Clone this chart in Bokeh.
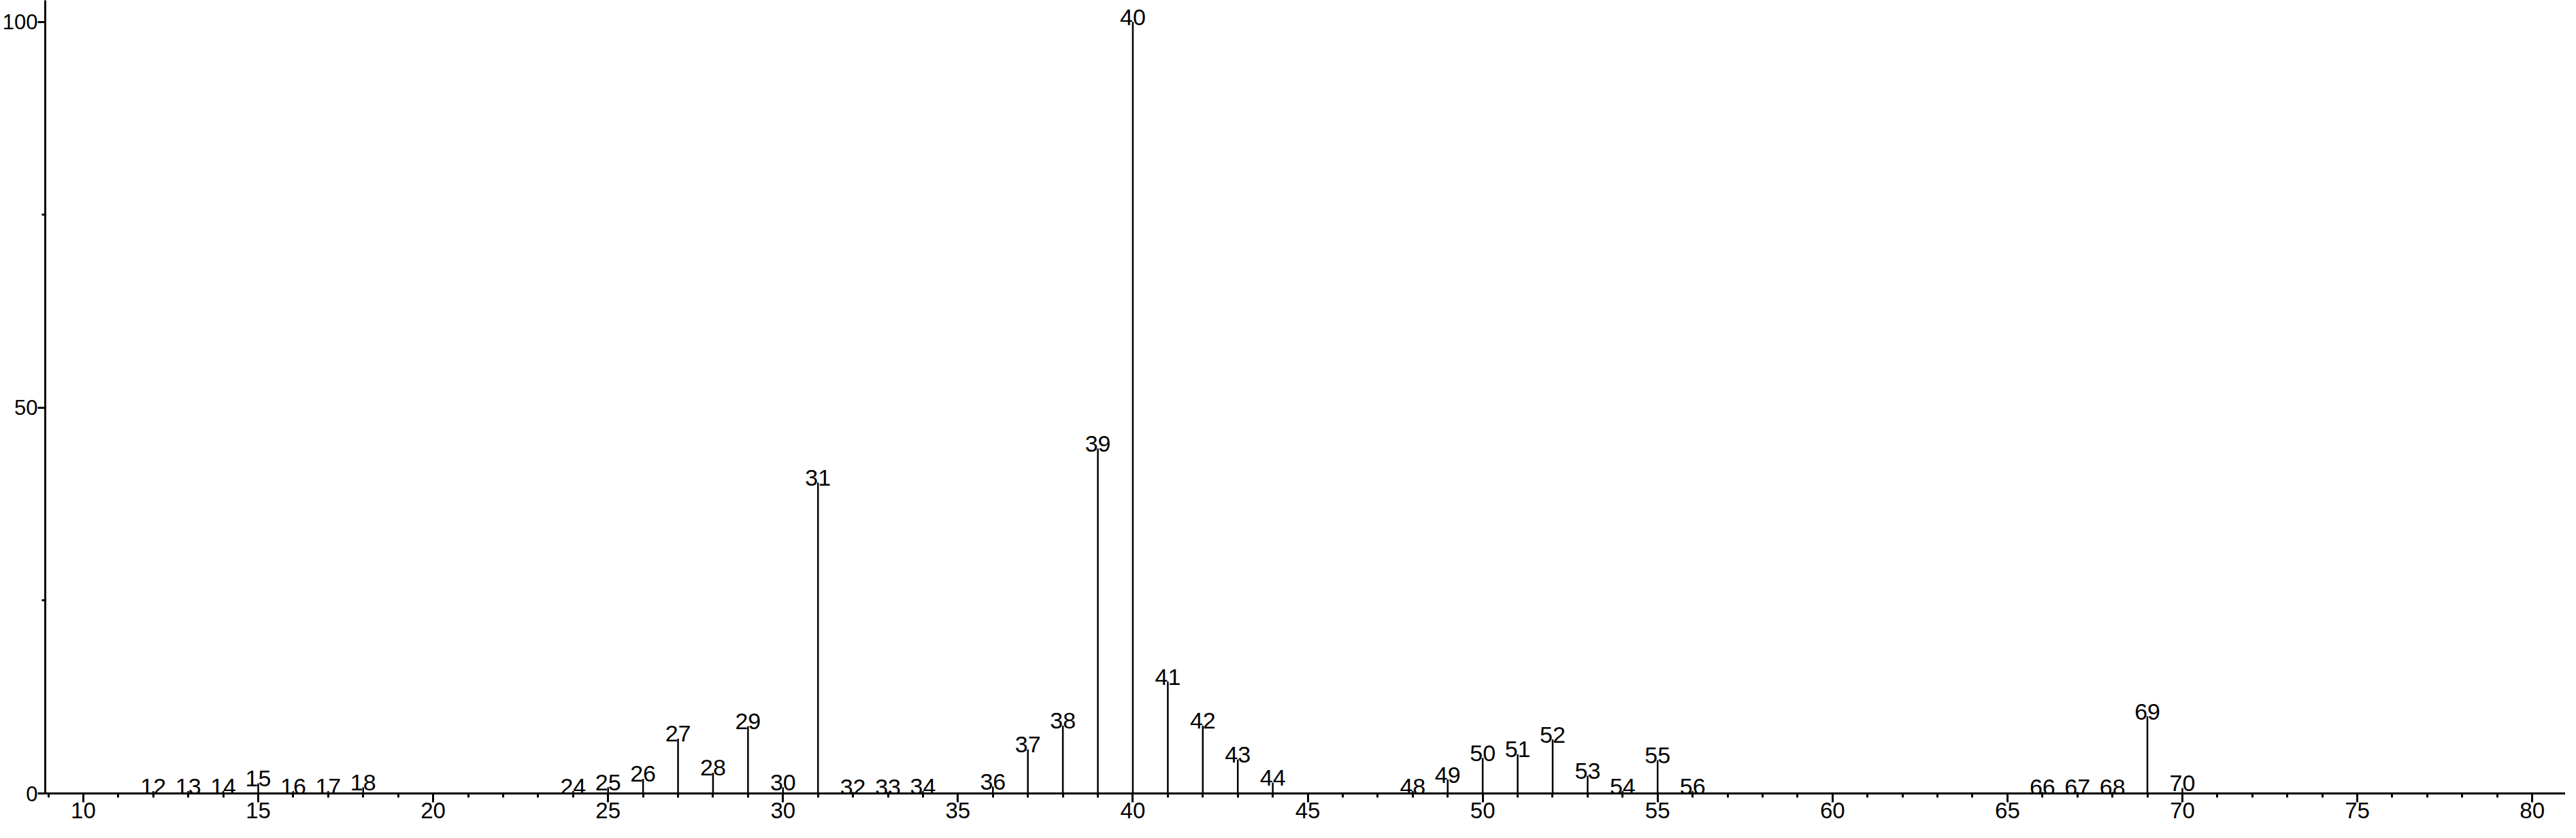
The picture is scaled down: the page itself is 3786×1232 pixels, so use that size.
from bokeh.plotting import figure
from bokeh.models import Range1d, FixedTicker, ColumnDataSource
from bokeh.core.properties import value
from bokeh.embed import file_html
from bokeh.resources import INLINE

# m/z values of the peaks
mz = [12, 13, 14, 15, 16, 17, 18, 24, 25, 26, 27, 28, 29, 30, 31, 32, 33, 34,
      36, 37, 38, 39, 40, 41, 42, 43, 44, 48, 49, 50, 51, 52, 53, 54, 55, 56,
      66, 67, 68, 69, 70]
# relative intensities (%)
intensity = [0.3, 0.3, 0.3, 1.3, 0.3, 0.3, 0.8, 0.3, 0.8, 1.9, 7.1, 2.7, 8.7, 0.8,
             40.3, 0.2, 0.2, 0.3, 0.9, 5.7, 8.8, 44.7, 100.0, 14.5, 8.8, 4.4, 1.4,
             0.3, 1.8, 4.6, 5.1, 7.0, 2.3, 0.3, 4.3, 0.3, 0.2, 0.2, 0.2, 10.0, 0.7]
peak_labels = [str(m) for m in mz]

x_major_ticks = list(range(10, 81, 5))
x_minor_ticks = list(range(9, 81))
y_major_ticks = [0, 50, 100]
y_minor_ticks = [25, 75]

FONT = "Liberation Sans"

src = ColumnDataSource(data=dict(mz=mz, zero=[0] * len(mz), inten=intensity, lab=peak_labels))

p = figure(width=3770, height=1216,
           x_range=Range1d(8.912, 80.95), y_range=Range1d(0, 102.8),
           output_backend="svg", toolbar_location=None,
           min_border_left=62, min_border_right=0, min_border_top=0, min_border_bottom=50)

p.outline_line_color = None
p.grid.visible = False
p.background_fill_color = "white"
p.border_fill_color = "white"

p.segment(x0="mz", y0="zero", x1="mz", y1="inten", source=src,
          line_color="black", line_width=2.5)
p.text(x="mz", y="inten", text="lab", source=src,
       text_align="center", text_baseline="alphabetic", y_offset=-7,
       text_font=value(FONT), text_font_size="34px", text_color="black")

xa = p.xaxis[0]
xa.ticker = FixedTicker(ticks=x_major_ticks, minor_ticks=x_minor_ticks)
xa.axis_line_width = 3
xa.major_tick_line_width = 3
xa.minor_tick_line_width = 3
xa.major_tick_in = 0
xa.major_tick_out = 13
xa.minor_tick_in = 0
xa.minor_tick_out = 6
xa.major_label_standoff = 0
xa.major_label_text_font = FONT
xa.major_label_text_font_size = "33px"
xa.major_label_text_color = "black"

ya = p.yaxis[0]
ya.ticker = FixedTicker(ticks=y_major_ticks, minor_ticks=y_minor_ticks)
ya.axis_line_width = 3
ya.major_tick_line_width = 3
ya.minor_tick_line_width = 3
ya.major_tick_in = 0
ya.major_tick_out = 11
ya.minor_tick_in = 0
ya.minor_tick_out = 5
ya.major_label_standoff = 0
ya.major_label_text_font = FONT
ya.major_label_text_font_size = "31px"
ya.major_label_text_color = "black"

open("out.html", "w").write(file_html(p, INLINE))
